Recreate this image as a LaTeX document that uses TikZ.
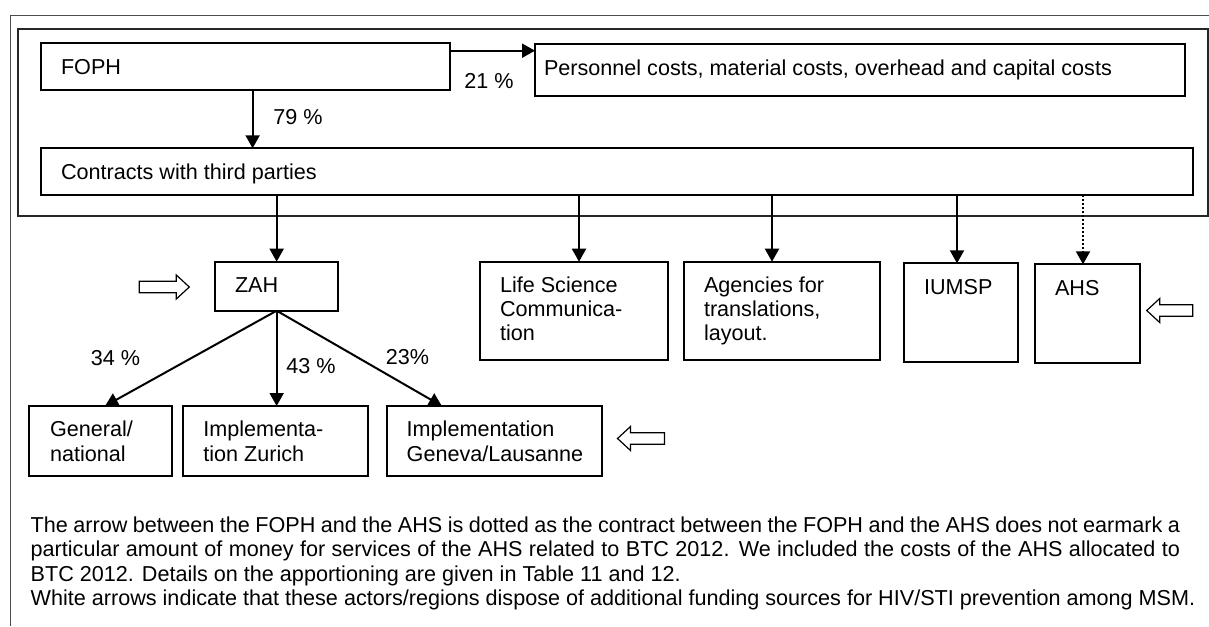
\documentclass[tikz,border=0pt]{standalone}
\usepackage{fontspec}
\setmainfont{Liberation Sans}
\usetikzlibrary{arrows.meta,calc}
\begin{document}
\begin{tikzpicture}[x=0.5pt,y=-0.5pt,
  every node/.style={font=\fontsize{10.8}{12}\selectfont, inner sep=0pt, outer sep=0pt},
  bx/.style 2 args={draw, line width=1pt, anchor=north west, minimum width=#1*0.5pt, minimum height=#2*0.5pt},
  txt/.style={anchor=base west, align=left},
  two/.style={font=\fontsize{10.8}{12.5}\selectfont},
  three/.style={font=\fontsize{10.8}{11.9}\selectfont},
  pct/.style={anchor=base},
  arr/.style={line width=1pt, -{Triangle[length=6.5pt,width=7pt]}},
  dotarr/.style={line width=1pt, densely dotted, -{Triangle[length=6.5pt,width=7pt,sep=0pt]}},
  frame/.style={line width=1pt, draw=black!85},
  thinframe/.style={line width=0.5pt, draw=black!70},
  pics/warrow/.style={code={
    \draw[line width=0.6pt, fill=white, line join=miter]
      (0,0) -- (-13,-12) -- (-13,-5.8) -- (-#1,-5.8) -- (-#1,5.8) -- (-13,5.8) -- (-13,12) -- cycle;}}
]
\useasboundingbox (0,0) rectangle (1209,626);

% frames
\draw[thinframe] (1209,15.7) -- (10.7,15.7) -- (10.7,626);
\draw[frame] (18.4,29.3) rectangle (1207.8,216);

% top boxes
\node[bx={409}{47.2}] (foph) at (41,43.3) {};
\node[txt] (fophT) at (61,74.5) {FOPH};
\node[bx={649.5}{51.4}] (pers) at (535,44.3) {};
\node[txt] (persT) at (544,75.5) {Personnel costs, material costs, overhead and capital costs};
\node[bx={1151.5}{46.7}] (ctr) at (41,148.3) {};
\node[txt] (ctrT) at (61,179) {Contracts with third parties};

% second row (multi-line texts: base = last line)
\node[bx={123.3}{49}] (zah) at (215,261.7) {};
\node[txt] (zahT) at (235,292.7) {ZAH};
\node[bx={188}{98.3}] (life) at (480,261.7) {};
\node[txt,three] (lifeT) at (500,340.3) {Life Science\\Communica-\\tion};
\node[bx={196}{98.3}] (agen) at (683.5,261.7) {};
\node[txt,three] (agenT) at (704,340.3) {Agencies for\\translations,\\layout.};
\node[bx={114.6}{98.4}] (iumsp) at (903.7,263.3) {};
\node[txt] (iumspT) at (924,294) {IUMSP};
\node[bx={104.8}{98.4}] (ahs) at (1035,264.3) {};
\node[txt] (ahsT) at (1055,295.7) {AHS};

% third row
\node[bx={142.7}{70}] (gen) at (29,406) {};
\node[txt,two] (genT) at (50,461) {General/\\national};
\node[bx={185.6}{70}] (zur) at (182.7,406) {};
\node[txt,two] (zurT) at (203.3,461) {Implementa-\\tion Zurich};
\node[bx={215.3}{70}] (gva) at (386.7,406) {};
\node[txt,two] (gvaT) at (406.7,461) {Implementation\\Geneva/Lausanne};

% percentages
\node[pct] (p21) at (489,89) {21 \%};
\node[pct] (p79) at (298,125) {79 \%};
\node[anchor=base east] (p34) at (140,365.7) {34 \%};
\node[pct] (p43) at (311,373.3) {43 \%};
\node[pct] (p23) at (407.5,364) {23\%};

% connectors
\coordinate (a21) at ($(foph.north east)+(0,7.4)$);
\draw[arr] (a21) -- (a21 -| pers.west);
\coordinate (a79) at ($(foph.south)+(7.1,0)$);
\draw[arr] (a79) -- (a79 |- ctr.north);
\draw[arr] (ctr.south -| zah.north) -- (zah.north);
\coordinate (lifeIn) at ($(life.north)+(5,0)$);
\draw[arr] (ctr.south -| lifeIn) -- (lifeIn);
\coordinate (agenIn) at ($(agen.north)+(-9.5,0)$);
\draw[arr] (ctr.south -| agenIn) -- (agenIn);
\coordinate (iumspIn) at ($(iumsp.north)+(-4,0)$);
\draw[arr] (ctr.south -| iumspIn) -- (iumspIn);
\coordinate (ahsIn) at ($(ahs.north)+(-4.4,0)$);
\draw[dotarr] (ctr.south -| ahsIn) -- (ahsIn);

\coordinate (genIn) at ($(gen.north)+(4.7,0)$);
\draw[arr] (zah.south) -- (genIn);
\draw[arr] (zah.south) -- (zah.south |- zur.north);
\coordinate (gvaIn) at ($(gva.north)+(-52.5,0)$);
\draw[arr] (zah.south) -- (gvaIn);

% white arrows
\pic at (189.3,287) {warrow=50};
\pic[xscale=-1] at (1146.7,310.5) {warrow=46};
\pic[xscale=-1] at (617.5,438.5) {warrow=47};

% note
\node[anchor=base west, text width=574.65pt, align=justify, font=\fontsize{10.8}{12.1}\selectfont] (note) at (30.7,532.7)
 {\hyphenpenalty=10000 The arrow between the FOPH and the AHS is dotted as the contract between the FOPH and the AHS does not earmark a\linebreak particular amount of money for services of the AHS related to BTC 2012. We included the costs of the AHS allocated to\linebreak BTC 2012. Details on the apportioning are given in Table 11 and 12.\\
 \mbox{White arrows indicate that these actors/regions dispose of additional funding sources for HIV/STI prevention among MSM.}};
\end{tikzpicture}
\end{document}
